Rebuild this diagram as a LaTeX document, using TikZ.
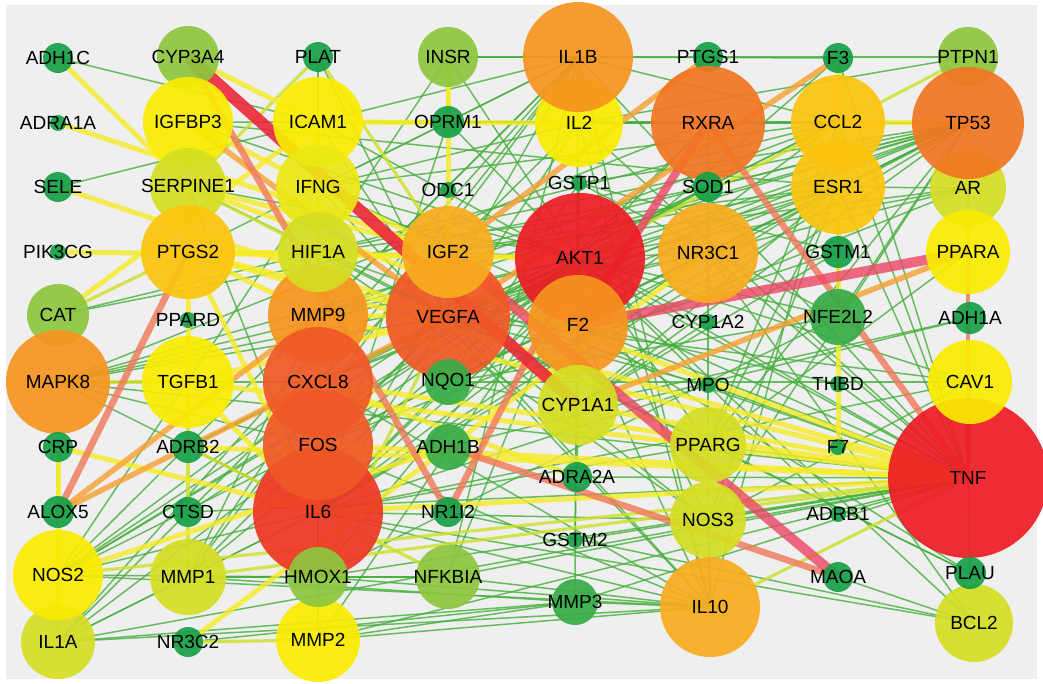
\documentclass[tikz,border=0pt]{standalone}
\usepackage{fontspec}
\setmainfont{Liberation Sans}
\pgfdeclarelayer{edges}
\pgfdeclarelayer{lab}
\pgfsetlayers{edges,main,lab}
\definecolor{bgc}{RGB}{239,239,239}
\definecolor{ndg}{RGB}{22,160,72}
\definecolor{nmg}{RGB}{55,172,72}
\definecolor{nlg}{RGB}{141,198,63}
\definecolor{nyg}{RGB}{213,222,35}
\definecolor{nye}{RGB}{249,236,0}
\definecolor{nyf}{RGB}{236,232,20}
\definecolor{nyo}{RGB}{252,196,14}
\definecolor{nio}{RGB}{249,172,30}
\definecolor{nor}{RGB}{246,148,32}
\definecolor{ndo}{RGB}{242,118,34}
\definecolor{nro}{RGB}{240,88,38}
\definecolor{nil}{RGB}{238,55,35}
\definecolor{nrd}{RGB}{237,28,36}
\definecolor{cg}{RGB}{70,175,60}
\definecolor{clg}{RGB}{150,205,55}
\definecolor{cyg}{RGB}{205,225,40}
\definecolor{cy}{RGB}{246,236,40}
\definecolor{co}{RGB}{247,160,50}
\definecolor{cs}{RGB}{240,120,90}
\definecolor{cp}{RGB}{236,70,100}
\definecolor{cr}{RGB}{235,35,55}
\tikzset{
  gc/.style={circle,inner sep=0pt,outer sep=0pt,draw=none,fill opacity=0.92},
  lb/.style={font=\fontsize{19}{19}\selectfont,inner sep=0pt,text=black},
  ed/.style={line cap=butt,draw opacity=0.8},
  eg/.style={ed,draw=cg,line width=1.5pt},
  eyg/.style={ed,draw=cyg,line width=3.2pt},
  ey/.style={ed,draw=cy,line width=5pt},
  eo/.style={ed,draw=co,line width=5.5pt},
  eot/.style={ed,draw=cs,line width=4pt},
  es/.style={ed,draw=cs,line width=6.5pt},
  ep/.style={ed,draw=cp,line width=10pt},
  er/.style={ed,draw=cr,line width=12pt,draw opacity=0.88}
}
\newcommand{\nd}[5]{%
  \node[gc,minimum size=#3*2,fill=#4] (#1) at (#2) {};%
  \begin{pgfonlayer}{lab}\node[lb] (#1-l) at (#2) {#5};\end{pgfonlayer}}
\begin{document}
\begin{tikzpicture}[x=1pt,y=-1pt]
\useasboundingbox (0,0) rectangle (1043,683);
\begin{pgfonlayer}{edges}
\fill[white] (0,0) rectangle (1043,683);
\fill[bgc] (6,5) rectangle (1037,679);
\end{pgfonlayer}
% large nodes first
\nd{TNF}{968,478}{80}{nrd}{TNF}
\nd{AKT1}{580,258}{65}{nrd}{AKT1}
\nd{IL6}{318,512}{65}{nil}{IL6}
\nd{VEGFA}{448,317}{62}{nro}{VEGFA}
\nd{IL2}{579,123}{44}{nye}{IL2}
\nd{PTPN1}{968,57}{30}{nlg}{PTPN1}
\nd{AR}{968,188}{38}{nyg}{AR}
\nd{MMP9}{318,315}{50}{nor}{MMP9}
\nd{MMP2}{318,640}{42}{nye}{MMP2}
\nd{BCL2}{974,623}{39}{nyg}{BCL2}
\nd{IL1A}{58,642}{37}{nyg}{IL1A}
% row 1
\nd{ADH1C}{58,58}{15}{ndg}{ADH1C}
\nd{CYP3A4}{188,57}{31}{nlg}{CYP3A4}
\nd{PLAT}{318,57}{15}{ndg}{PLAT}
\nd{INSR}{448,57}{30}{nlg}{INSR}
\nd{IL1B}{578,57}{55}{nor}{IL1B}
\nd{PTGS1}{708,57}{15}{ndg}{PTGS1}
\nd{F3}{838,58}{15}{ndg}{F3}
% row 2
\nd{ADRA1A}{58,123}{8}{ndg}{ADRA1A}
\nd{IGFBP3}{188,122}{45}{nye}{IGFBP3}
\nd{ICAM1}{318,122}{45}{nye}{ICAM1}
\nd{OPRM1}{448,122}{16}{ndg}{OPRM1}
\nd{RXRA}{708,123}{57}{ndo}{RXRA}
\nd{CCL2}{838,122}{47}{nyo}{CCL2}
\nd{TP53}{968,123}{56}{ndo}{TP53}
% row 3
\nd{SELE}{58,187}{15}{ndg}{SELE}
\nd{SERPINE1}{188,186}{38}{nyg}{SERPINE1}
\nd{IFNG}{318,187}{42}{nyf}{IFNG}
\nd{ODC1}{448,190}{8}{ndg}{ODC1}
\nd{GSTP1}{579,183}{8}{ndg}{GSTP1}
\nd{SOD1}{708,187}{15}{ndg}{SOD1}
\nd{ESR1}{838,187}{47}{nyo}{ESR1}
% row 4
\nd{PIK3CG}{58,252}{8}{ndg}{PIK3CG}
\nd{PTGS2}{188,252}{47}{nyo}{PTGS2}
\nd{HIF1A}{318,252}{40}{nyg}{HIF1A}
\nd{IGF2}{448,252}{46}{nio}{IGF2}
\nd{NR3C1}{708,253}{50}{nio}{NR3C1}
\nd{GSTM1}{838,252}{16}{ndg}{GSTM1}
\nd{PPARA}{968,252}{42}{nye}{PPARA}
% row 5
\nd{CAT}{58,315}{31}{nlg}{CAT}
\nd{PPARD}{188,320}{8}{ndg}{PPARD}
\nd{F2}{578,325}{50}{nor}{F2}
\nd{CYP1A2}{708,322}{8}{ndg}{CYP1A2}
\nd{NFE2L2}{838,317}{28}{nmg}{NFE2L2}
\nd{ADH1A}{970,318}{16}{ndg}{ADH1A}
% row 6
\nd{MAPK8}{58,382}{52}{nor}{MAPK8}
\nd{TGFB1}{188,382}{46}{nye}{TGFB1}
\nd{CXCL8}{318,382}{55}{nro}{CXCL8}
\nd{NQO1}{448,382}{23}{nmg}{NQO1}
\nd{CYP1A1}{578,405}{40}{nyg}{CYP1A1}
\nd{MPO}{708,385}{8}{ndg}{MPO}
\nd{THBD}{838,384}{8}{ndg}{THBD}
\nd{CAV1}{970,382}{42}{nye}{CAV1}
% row 7
\nd{CRP}{58,447}{15}{ndg}{CRP}
\nd{ADRB2}{188,447}{16}{ndg}{ADRB2}
\nd{FOS}{318,445}{55}{nro}{FOS}
\nd{ADH1B}{448,447}{23}{nmg}{ADH1B}
\nd{ADRA2A}{577,477}{15}{ndg}{ADRA2A}
\nd{PPARG}{708,445}{38}{nyg}{PPARG}
\nd{F7}{838,447}{8}{ndg}{F7}
% row 8
\nd{ALOX5}{58,512}{16}{ndg}{ALOX5}
\nd{CTSD}{188,512}{15}{ndg}{CTSD}
\nd{NR1I2}{448,512}{15}{ndg}{NR1I2}
\nd{GSTM2}{575,540}{8}{ndg}{GSTM2}
\nd{NOS3}{708,520}{38}{nyg}{NOS3}
\nd{ADRB1}{838,514}{8}{ndg}{ADRB1}
% row 9
\nd{NOS2}{58,575}{45}{nye}{NOS2}
\nd{MMP1}{188,577}{38}{nyg}{MMP1}
\nd{HMOX1}{318,577}{30}{nlg}{HMOX1}
\nd{NFKBIA}{448,577}{32}{nlg}{NFKBIA}
\nd{MMP3}{575,602}{23}{nmg}{MMP3}
\nd{IL10}{710,607}{50}{nio}{IL10}
\nd{MAOA}{838,577}{15}{ndg}{MAOA}
\nd{PLAU}{970,573}{16}{ndg}{PLAU}
% row 10
\nd{NR3C2}{188,642}{15}{ndg}{NR3C2}

\begin{pgfonlayer}{edges}
\foreach \a/\b in {INSR/PTPN1,INSR/IL1B,IL1B/F3,ADH1C/ICAM1,SELE/ICAM1,CAT/HIF1A,
 MAPK8/AKT1,MAPK8/TP53,MAPK8/NR3C1,MAPK8/FOS,MAPK8/IL6,MAPK8/TNF,MAPK8/CXCL8,MAPK8/VEGFA,MAPK8/RXRA,
 NOS2/IL6,NOS2/FOS,NOS2/VEGFA,NOS2/AKT1,NOS2/HMOX1,NOS2/IL10,NOS2/CXCL8,NOS2/IL1B,
 IL1A/IL10,IL1A/MMP3,IL1A/IL6,IL1A/IL1B,IL1A/FOS,IL1A/CXCL8,IL1A/TNF,IL1A/MMP1,
 MMP1/HMOX1,MMP1/IL6,MMP1/IL1B,MMP1/CXCL8,MMP1/VEGFA,MMP1/MMP3,MMP1/AKT1,MMP1/NFKBIA,MMP1/MMP9,
 NR3C2/MMP3,MMP2/MMP3,MMP2/IL10,MMP2/TNF,MMP2/AKT1,MMP2/MMP9,
 HMOX1/NFKBIA,HMOX1/IL10,HMOX1/NFE2L2,HMOX1/TNF,HMOX1/AKT1,
 NFKBIA/IL10,NFKBIA/AKT1,NFKBIA/IL1B,NFKBIA/TNF,
 MMP3/IL10,MMP3/TNF,MMP3/IL1B,
 IL10/NOS3,IL10/PPARG,IL10/CCL2,IL10/F2,IL10/IL2,
 NOS3/AKT1,NOS3/VEGFA,NOS3/TNF,NOS3/CAV1,NOS3/ESR1,NOS3/TP53,NOS3/HIF1A,
 PPARG/TNF,PPARG/AKT1,PPARG/IL6,PPARG/RXRA,PPARG/TP53,PPARG/ESR1,PPARG/CCL2,PPARG/PPARA,
 MAOA/BCL2,NR1I2/BCL2,BCL2/NR3C1,BCL2/AKT1,PLAU/TNF,PLAU/VEGFA,
 ADRB1/TNF,ADRB1/AKT1,CTSD/AKT1,CTSD/TNF,ADRB2/AKT1,ADRB2/VEGFA,
 THBD/TNF,THBD/F2,NQO1/CAV1,CYP1A2/CYP1A1,CYP1A2/AKT1,MPO/TNF,MPO/VEGFA,MPO/IL6,
 NFE2L2/TP53,NFE2L2/AKT1,NFE2L2/NQO1,NFE2L2/ESR1,NFE2L2/GSTP1,
 GSTM1/CYP1A1,GSTM1/NQO1,GSTM1/GSTP1,
 SOD1/TP53,SOD1/AKT1,SOD1/CAT,SOD1/NOS2,
 TP53/AKT1,TP53/VEGFA,TP53/IL6,TP53/IGF2,TP53/HIF1A,TP53/FOS,TP53/CXCL8,TP53/F2,TP53/NR3C1,TP53/ESR1,
 TP53/GSTP1,TP53/NQO1,TP53/CYP1A1,TP53/MMP9,TP53/IL2,
 ESR1/AKT1,ESR1/IGF2,ESR1/VEGFA,ESR1/IL6,ESR1/CYP1A1,ESR1/AR,ESR1/TNF,ESR1/HIF1A,ESR1/CXCL8,ESR1/IGFBP3,
 CCL2/IL1B,CCL2/TNF,CCL2/IL6,CCL2/CXCL8,CCL2/IL2,CCL2/IFNG,CCL2/ICAM1,CCL2/MMP9,CCL2/VEGFA,CCL2/HIF1A,CCL2/NFE2L2,
 AR/AKT1,AR/VEGFA,AR/IGF2,AR/FOS,CAV1/AKT1,CAV1/VEGFA,CAV1/IL6,PTPN1/IL2,F3/TNF,F3/IL6,
 IL1B/TNF,IL1B/IL6,IL1B/CXCL8,IL1B/IFNG,IL1B/ICAM1,IL1B/MMP9,IL1B/IL10,IL1B/PTGS2,
 IL2/IFNG,IL2/IL6,IL2/TNF,IL2/CXCL8,INSR/AKT1,INSR/HIF1A,
 OPRM1/RXRA,OPRM1/AKT1,OPRM1/IL6,OPRM1/TP53,PLAT/ICAM1,PLAT/VEGFA,GSTP1/CYP1A1,GSTP1/NQO1,
 SERPINE1/AKT1,SERPINE1/PLAU,SERPINE1/IL6,IGFBP3/AKT1,IGFBP3/TP53,
 ICAM1/TNF,ICAM1/IL6,ICAM1/VEGFA,ICAM1/CXCL8,IFNG/TNF,IFNG/IL10,IFNG/CXCL8,IFNG/NOS2,IFNG/AKT1,
 HIF1A/VEGFA,HIF1A/AKT1,HIF1A/HMOX1,HIF1A/TNF,IGF2/AKT1,IGF2/VEGFA,
 VEGFA/AKT1,VEGFA/IL10,VEGFA/FOS,AKT1/TNF,AKT1/IL6,AKT1/FOS,AKT1/CXCL8,AKT1/MMP9,AKT1/NR3C1,
 F2/TNF,F2/PLAU,F2/VEGFA,CYP1A1/NQO1,CYP1A1/AKT1,CXCL8/IL10,FOS/IL10,IL6/IL10,IL6/NOS3,IL6/BCL2,
 NR3C1/TNF,NR3C1/IL6,NR3C1/FOS,RXRA/AKT1,RXRA/IL6,ADH1A/ADH1B,ADH1A/CYP1A1,ADRA2A/AKT1,ADRA2A/TNF,GSTM2/TNF,GSTM2/GSTP1}
 \draw[eg] (\a.center) -- (\b.center);
\foreach \a/\b in {NOS2/TNF,IL10/TNF,PTPN1/AKT1,MMP1/TNF,HMOX1/VEGFA,NFKBIA/IL6,TGFB1/MMP1,PLAT/SERPINE1,PLAT/IGF2,
 INSR/OPRM1,IL1B/IL2,MAPK8/TGFB1,CAT/PTGS2,NR3C2/MMP2,SERPINE1/HIF1A,IFNG/HIF1A,ICAM1/IFNG,NOS3/PPARG,
 TNF/CAV1,ESR1/CCL2,AR/TP53,PPARA/AR,IL6/FOS,OPRM1/ICAM1,CRP/ALOX5,ADRB2/IL6,IL1A/NOS2}
 \draw[eyg] (\a.center) -- (\b.center);
\foreach \a/\b in {ADH1C/SERPINE1,ADRA1A/IGF2,SELE/VEGFA,PIK3CG/AKT1,CAT/ICAM1,CRP/IL6,CRP/NOS2,NR3C2/NR3C1,
 IGFBP3/IGF2,CYP3A4/ICAM1,ICAM1/IL2,INSR/IGF2,TP53/CCL2,F3/F7,PTGS2/AKT1,PTGS2/TNF,PTGS2/IL6,PTGS2/VEGFA,
 PTGS2/HIF1A,TGFB1/TNF,TGFB1/VEGFA,TGFB1/SERPINE1,IL6/TNF,FOS/TNF,CXCL8/TNF,ADRB2/TNF,MMP9/TNF,
 SERPINE1/IGF2,IFNG/IL6,SERPINE1/TNF,NOS2/ADH1B,TGFB1/IL6,MMP9/VEGFA,PTGS2/MMP9,CYP1A1/TNF,ADRA2A/CXCL8}
 \draw[ey] (\a.center) -- (\b.center);
\foreach \a/\b in {CYP1A1/PPARA,F3/VEGFA,ALOX5/MMP9,ALOX5/VEGFA,IGFBP3/VEGFA,IGF2/PTGS1}
 \draw[eo] (\a.center) -- (\b.center);
\draw[eot] (PPARA.center) -- (TNF.center);
\foreach \a/\b in {ALOX5/PTGS2,ADH1B/MAOA,RXRA/TNF,CYP3A4/NR1I2,NR1I2/AKT1}
 \draw[es] (\a.center) -- (\b.center);
\foreach \a/\b in {F2/PPARA,IGF2/MAOA}
 \draw[ep] (\a.center) -- (\b.center);
\draw[ep,line width=8pt] (RXRA.center) -- (F2.center);
\draw[er] (CYP3A4.center) -- (CYP1A1.center);
\end{pgfonlayer}
\end{tikzpicture}
\end{document}
